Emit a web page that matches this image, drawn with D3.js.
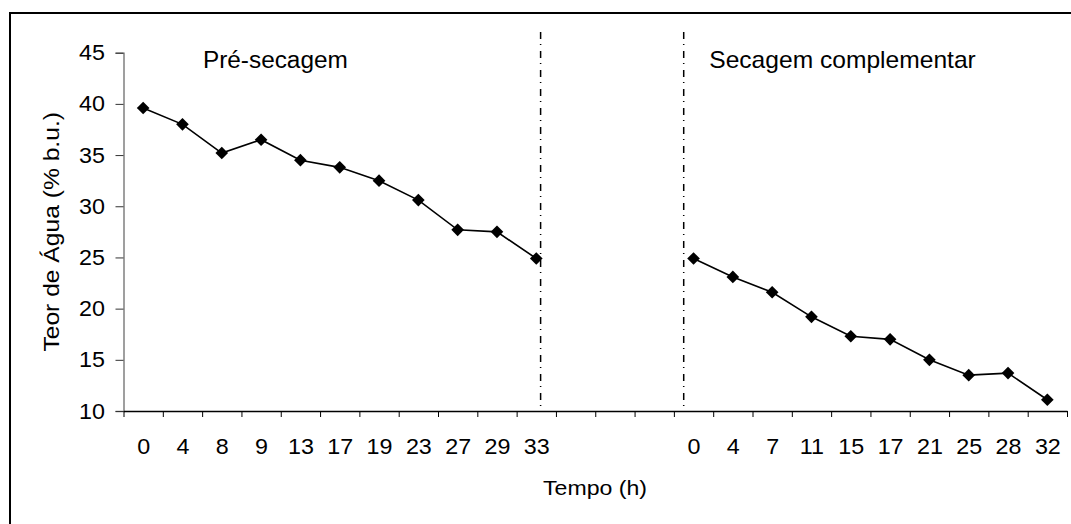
<!DOCTYPE html>
<html>
<head>
<meta charset="utf-8">
<script src="https://cdn.jsdelivr.net/npm/d3@7"></script>
<style>
  body { margin: 0; background: #fff; }
  svg text { font-family: "Liberation Sans", Arial, sans-serif; fill: #000; }
</style>
</head>
<body>
<svg id="chart" width="1071" height="524"></svg>
<script>
// pre-drying phase (h) and moisture content (% w.b.)
const preLabels = ['0', '4', '8', '9', '13', '17', '19', '23', '27', '29', '33'];
const preValues = [39.6, 38.0, 35.2, 36.5, 34.5, 33.8, 32.5, 30.6, 27.7, 27.5, 24.9];
// empty categories between the two phases
const gapCount = 3;
// complementary drying phase
const postLabels = ['0', '4', '7', '11', '15', '17', '21', '25', '28', '32'];
const postValues = [24.9, 23.1, 21.6, 19.2, 17.3, 17.0, 15.0, 13.5, 13.7, 11.1];
const yTicks = [10, 15, 20, 25, 30, 35, 40, 45];
// separators, in category units
const separators = [10.61, 14.25];

const svg = d3.select('#chart');
const plotLeft = 123.5, plotRight = 1067, plotTop = 52.7, plotBottom = 411;
const font = '"Liberation Sans", Arial, sans-serif';

const allLabels = preLabels.concat(d3.range(gapCount).map(() => ''), postLabels);
const nCats = allLabels.length;

const x = d3.scaleLinear().domain([0, nCats]).range([plotLeft, plotRight]);
const y = d3.scaleLinear().domain([10, 45]).range([plotBottom, plotTop]);

// text a bit wider than the font, like the original export
function label(px, py, str, size, sx, rot) {
  return svg.append('text')
    .attr('transform', `translate(${px},${py})` + (rot ? ` rotate(${rot})` : '') + ` scale(${sx},1)`)
    .attr('font-size', size)
    .text(str);
}

// outer frame (only top/left visible)
svg.append('rect')
  .attr('x', 10).attr('y', 13)
  .attr('width', 1100).attr('height', 600)
  .attr('fill', 'none').attr('stroke', '#000').attr('stroke-width', 2);

const tickScale = 1.06;

// y axis
const yAxis = svg.append('g')
  .attr('transform', `translate(${plotLeft},0)`)
  .call(d3.axisLeft(y).tickValues(yTicks).tickSize(8).tickPadding(10));
yAxis.select('.domain').attr('stroke', '#808080').attr('stroke-width', 1.5);
yAxis.selectAll('.tick line').attr('stroke', '#333');
yAxis.selectAll('text')
  .attr('font-size', 22).style('font-family', font)
  .attr('x', -18.5 / tickScale)
  .attr('transform', `scale(${tickScale},1)`);

// x axis: ticks at category boundaries
const xAxis = svg.append('g')
  .attr('transform', `translate(0,${plotBottom})`)
  .call(d3.axisBottom(x).tickValues(d3.range(nCats + 1)).tickFormat('').tickSize(6).tickSizeOuter(0));
xAxis.select('.domain').attr('stroke', '#000').attr('stroke-width', 1.5);
xAxis.selectAll('.tick line').attr('stroke', '#000');

// x labels at category centres
const xLab = svg.append('g')
  .attr('transform', `translate(0,${plotBottom})`)
  .call(d3.axisBottom(x).tickValues(d3.range(nCats).map(i => i + 0.5))
    .tickFormat(d => allLabels[Math.floor(d)]).tickSize(0).tickPadding(27.5));
xLab.select('.domain').remove();
xLab.selectAll('text')
  .attr('font-size', 22).style('font-family', font)
  .attr('transform', `scale(${tickScale},1)`);

// separators
separators.forEach(s => {
  svg.append('line')
    .attr('x1', x(s)).attr('x2', x(s))
    .attr('y1', 32).attr('y2', plotBottom)
    .attr('stroke', '#000').attr('stroke-width', 1.5)
    .attr('stroke-dasharray', '7,5,1,6');
});

// series
const line = d3.line().x(d => x(d.i + 0.5)).y(d => y(d.v));
const preData = preValues.map((v, i) => ({ i, v }));
const postStart = preLabels.length + gapCount;
const postData = postValues.map((v, i) => ({ i: postStart + i, v }));

[preData, postData].forEach(data => {
  svg.append('path')
    .datum(data)
    .attr('d', line)
    .attr('fill', 'none')
    .attr('stroke', '#000')
    .attr('stroke-width', 1.6);

  svg.selectAll(null)
    .data(data)
    .enter().append('path')
    .attr('d', d3.symbol(d3.symbolSquare, 80))
    .attr('transform', d => `translate(${x(d.i + 0.5)},${y(d.v)}) rotate(45)`)
    .attr('fill', '#000');
});

// phase labels
label(x(2.02), y(43.5), 'Pré-secagem', 23, 1.06);
label(x(14.9), y(43.5), 'Secagem complementar', 23, 1.07);

// axis titles
label(595, 495, 'Tempo (h)', 21, 1.1).attr('text-anchor', 'middle');
label(51, (plotTop + plotBottom) / 2, 'Teor de Água (% b.u.)', 22, 1.12, -90)
  .attr('text-anchor', 'middle')
  .attr('dominant-baseline', 'central');
</script>
</body>
</html>
